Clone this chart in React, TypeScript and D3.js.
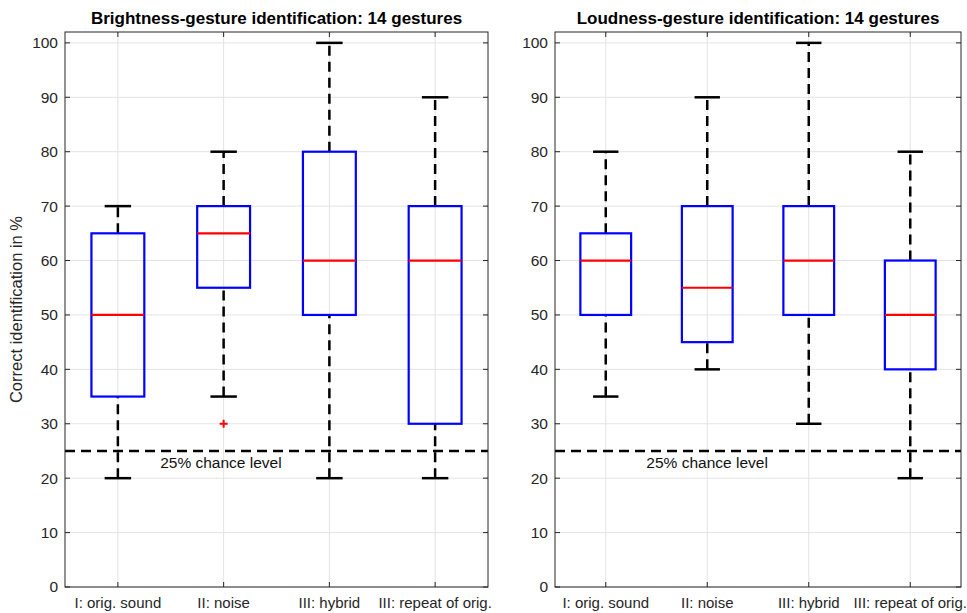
import React, { useEffect, useRef } from "react";
import * as d3 from "d3";

// conditions on the x-axis
const categories = ["I: orig. sound", "II: noise", "III: hybrid", "III: repeat of orig."];

// box statistics per condition: [lower whisker, q1, median, q3, upper whisker]
const brightnessStats = [
  [20, 35, 50, 65, 70],
  [35, 55, 65, 70, 80],
  [20, 50, 60, 80, 100],
  [20, 30, 60, 70, 90],
];
const brightnessOutliers = [[], [30], [], []];

const loudnessStats = [
  [35, 50, 60, 65, 80],
  [40, 45, 55, 70, 90],
  [30, 50, 60, 70, 100],
  [20, 40, 50, 60, 80],
];
const loudnessOutliers = [[], [], [], []];

const yTicks = [0, 10, 20, 30, 40, 50, 60, 70, 80, 90, 100];
const chanceLevel = 25;

const panels = [
  { title: "Brightness-gesture identification: 14 gestures", stats: brightnessStats, outliers: brightnessOutliers, left: 65, right: 488 },
  { title: "Loudness-gesture identification: 14 gestures", stats: loudnessStats, outliers: loudnessOutliers, left: 555, right: 961 },
];

const FONT = "'Liberation Sans', Arial, Helvetica, sans-serif";

const App = () => {
  const ref = useRef<SVGSVGElement>(null);

  useEffect(() => {
    const svg = d3.select(ref.current);
    svg.selectAll("*").remove();

    const top = 32;
    const bottom = 587;
    const y = d3.scaleLinear().domain([0, 102]).range([bottom, top]);

    panels.forEach((p, pi) => {
      const g = svg.append("g");
      const x = d3.scaleLinear().domain([0.5, 4.5]).range([p.left, p.right]);
      const step = x(2) - x(1);

      // grid
      g.selectAll("line.gy").data(yTicks).enter().append("line")
        .attr("x1", p.left).attr("x2", p.right)
        .attr("y1", d => y(d)).attr("y2", d => y(d))
        .attr("stroke", "#e3e3e3").attr("stroke-width", 1);
      g.selectAll("line.gx").data(categories).enter().append("line")
        .attr("x1", (d, i) => x(i + 1)).attr("x2", (d, i) => x(i + 1))
        .attr("y1", top).attr("y2", bottom)
        .attr("stroke", "#e3e3e3").attr("stroke-width", 1);

      // chance level
      g.append("line")
        .attr("x1", p.left).attr("x2", p.right)
        .attr("y1", y(chanceLevel)).attr("y2", y(chanceLevel))
        .attr("stroke", "#000").attr("stroke-width", 2.5)
        .attr("stroke-dasharray", "10,6");
      g.append("text")
        .attr("x", x(1.4)).attr("y", y(chanceLevel) + 17)
        .attr("font-family", FONT).attr("font-size", 15.5).attr("fill", "#111")
        .text("25% chance level");

      // boxes
      p.stats.forEach((s, i) => {
        const cx = x(i + 1);
        const bw = step * 0.25;
        const cw = step * 0.125;
        const [lo, q1, med, q3, hi] = s;
        // whiskers
        [[q3, hi], [lo, q1]].forEach(([a, b]) => {
          g.append("line")
            .attr("x1", cx).attr("x2", cx)
            .attr("y1", y(a)).attr("y2", y(b))
            .attr("stroke", "#000").attr("stroke-width", 2.5)
            .attr("stroke-dasharray", "10,6");
        });
        [lo, hi].forEach(v => {
          g.append("line")
            .attr("x1", cx - cw).attr("x2", cx + cw)
            .attr("y1", y(v)).attr("y2", y(v))
            .attr("stroke", "#000").attr("stroke-width", 2.5);
        });
        g.append("rect")
          .attr("x", cx - bw).attr("width", 2 * bw)
          .attr("y", y(q3)).attr("height", y(q1) - y(q3))
          .attr("fill", "none").attr("stroke", "#0000ff").attr("stroke-width", 2.2);
        g.append("line")
          .attr("x1", cx - bw).attr("x2", cx + bw)
          .attr("y1", y(med)).attr("y2", y(med))
          .attr("stroke", "#ff0000").attr("stroke-width", 2.2);
        p.outliers[i].forEach(o => {
          g.append("path")
            .attr("d", `M${cx - 4},${y(o)}H${cx + 4}M${cx},${y(o) - 4}V${y(o) + 4}`)
            .attr("stroke", "#ff0000").attr("stroke-width", 2);
        });
      });

      // axis box
      g.append("rect")
        .attr("x", p.left).attr("y", top)
        .attr("width", p.right - p.left).attr("height", bottom - top)
        .attr("fill", "none").attr("stroke", "#262626").attr("stroke-width", 1);

      // y ticks (inside, both sides)
      yTicks.forEach(t => {
        g.append("line").attr("x1", p.left).attr("x2", p.left + 5)
          .attr("y1", y(t)).attr("y2", y(t)).attr("stroke", "#262626");
        g.append("line").attr("x1", p.right - 5).attr("x2", p.right)
          .attr("y1", y(t)).attr("y2", y(t)).attr("stroke", "#262626");
        g.append("text")
          .attr("x", p.left - 7).attr("y", y(t)).attr("dy", "0.35em")
          .attr("text-anchor", "end")
          .attr("font-family", FONT).attr("font-size", 15.5).attr("fill", "#262626")
          .text(t);
      });

      // x ticks (inside, top and bottom)
      categories.forEach((c, i) => {
        const cx = x(i + 1);
        g.append("line").attr("x1", cx).attr("x2", cx)
          .attr("y1", bottom).attr("y2", bottom - 5).attr("stroke", "#262626");
        g.append("line").attr("x1", cx).attr("x2", cx)
          .attr("y1", top).attr("y2", top + 5).attr("stroke", "#262626");
        g.append("text")
          .attr("x", cx).attr("y", bottom + 21)
          .attr("text-anchor", "middle")
          .attr("font-family", FONT).attr("font-size", 15).attr("fill", "#262626")
          .text(c);
      });

      // title
      g.append("text")
        .attr("x", (p.left + p.right) / 2).attr("y", 24)
        .attr("text-anchor", "middle")
        .attr("font-family", FONT).attr("font-size", 17).attr("font-weight", "bold")
        .attr("fill", "#000")
        .text(p.title);

      if (pi === 0) {
        g.append("text")
          .attr("transform", `translate(22,${(top + bottom) / 2}) rotate(-90)`)
          .attr("text-anchor", "middle")
          .attr("font-family", FONT).attr("font-size", 16.5).attr("fill", "#262626")
          .text("Correct identification in %");
      }
    });
  }, []);

  return (
    <svg
      ref={ref}
      width={967}
      height={613}
      style={{ position: "absolute", left: 0, top: 0, background: "#fff" }}
    ></svg>
  );
};

export default App;
